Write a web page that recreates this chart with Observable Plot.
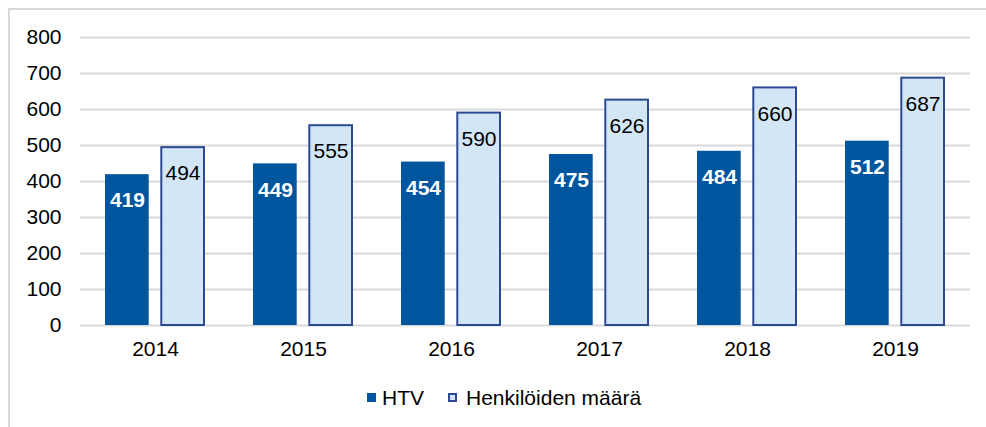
<!DOCTYPE html>
<html>
<head>
<meta charset="utf-8">
<script src="https://cdn.jsdelivr.net/npm/d3@7"></script>
<script src="https://cdn.jsdelivr.net/npm/@observablehq/plot@0.6"></script>
<style>
  html, body { margin: 0; padding: 0; background: #fff; }
  body { width: 986px; height: 427px; position: relative; overflow: hidden; font-family: "Liberation Sans", Arial, sans-serif; }
  #frame { position: absolute; left: 8px; top: 8px; width: 1000px; height: 440px; border-left: 2px solid #d9d9d9; border-top: 2px solid #d9d9d9; box-sizing: border-box; }
  #chart { position: absolute; left: 0; top: 0; }
  #legend { position: absolute; left: 0; top: 386px; width: 986px; height: 24px; font-size: 21px; color: #000; }
  .sw { position: absolute; top: 7px; width: 9px; height: 9px; box-sizing: border-box; }
  .lt { position: absolute; top: 0; line-height: 24px; }
</style>
</head>
<body>
<div id="frame"></div>
<div id="chart"></div>
<div id="legend">
  <div class="sw" style="left:367px;background:#00559f;"></div>
  <div class="lt" style="left:382px;">HTV</div>
  <div class="sw" style="left:448px;background:#d3e6f5;border:2px solid #2b4a91;"></div>
  <div class="lt" style="left:466px;">Henkilöiden määrä</div>
</div>
<script>
const years = ["2014", "2015", "2016", "2017", "2018", "2019"];
const htv = [419, 449, 454, 475, 484, 512];
const henkilot = [494, 555, 590, 626, 660, 687];
const yTicks = [0, 100, 200, 300, 400, 500, 600, 700, 800];

const htvData = years.map((y, i) => ({year: y, value: htv[i]}));
const henkData = years.map((y, i) => ({year: y, value: henkilot[i]}));

const chart = Plot.plot({
  width: 986,
  height: 375,
  marginLeft: 80,
  marginRight: 16,
  marginTop: 37,
  marginBottom: 50,
  style: {fontFamily: "'Liberation Sans', Arial, sans-serif", fontSize: "21px", color: "#000", background: "transparent"},
  x: {domain: years, padding: 0, label: null, tickSize: 0, tickPadding: 16},
  y: {domain: [0, 800], ticks: yTicks, label: null, tickSize: 0, tickPadding: 19},
  marks: [
    Plot.ruleY(yTicks, {stroke: "#d9d9d9", strokeWidth: 2}),
    Plot.barY(htvData, {x: "year", y: "value", fill: "#00559f", insetLeft: 24, insetRight: 80.3}),
    Plot.barY(henkData, {x: "year", y: "value", fill: "#d3e6f5", stroke: "#2b4a91", strokeWidth: 2, insetLeft: 80.3, insetRight: 25}),
    Plot.text(htvData, {x: "year", y: "value", text: d => String(d.value), dx: -28, dy: 26, fill: "#fff", fontWeight: "bold", fontSize: 21}),
    Plot.text(henkData, {x: "year", y: "value", text: d => String(d.value), dx: 27.5, dy: 26, fill: "#000", fontSize: 21})
  ]
});
document.getElementById("chart").appendChild(chart);
</script>
</body>
</html>
